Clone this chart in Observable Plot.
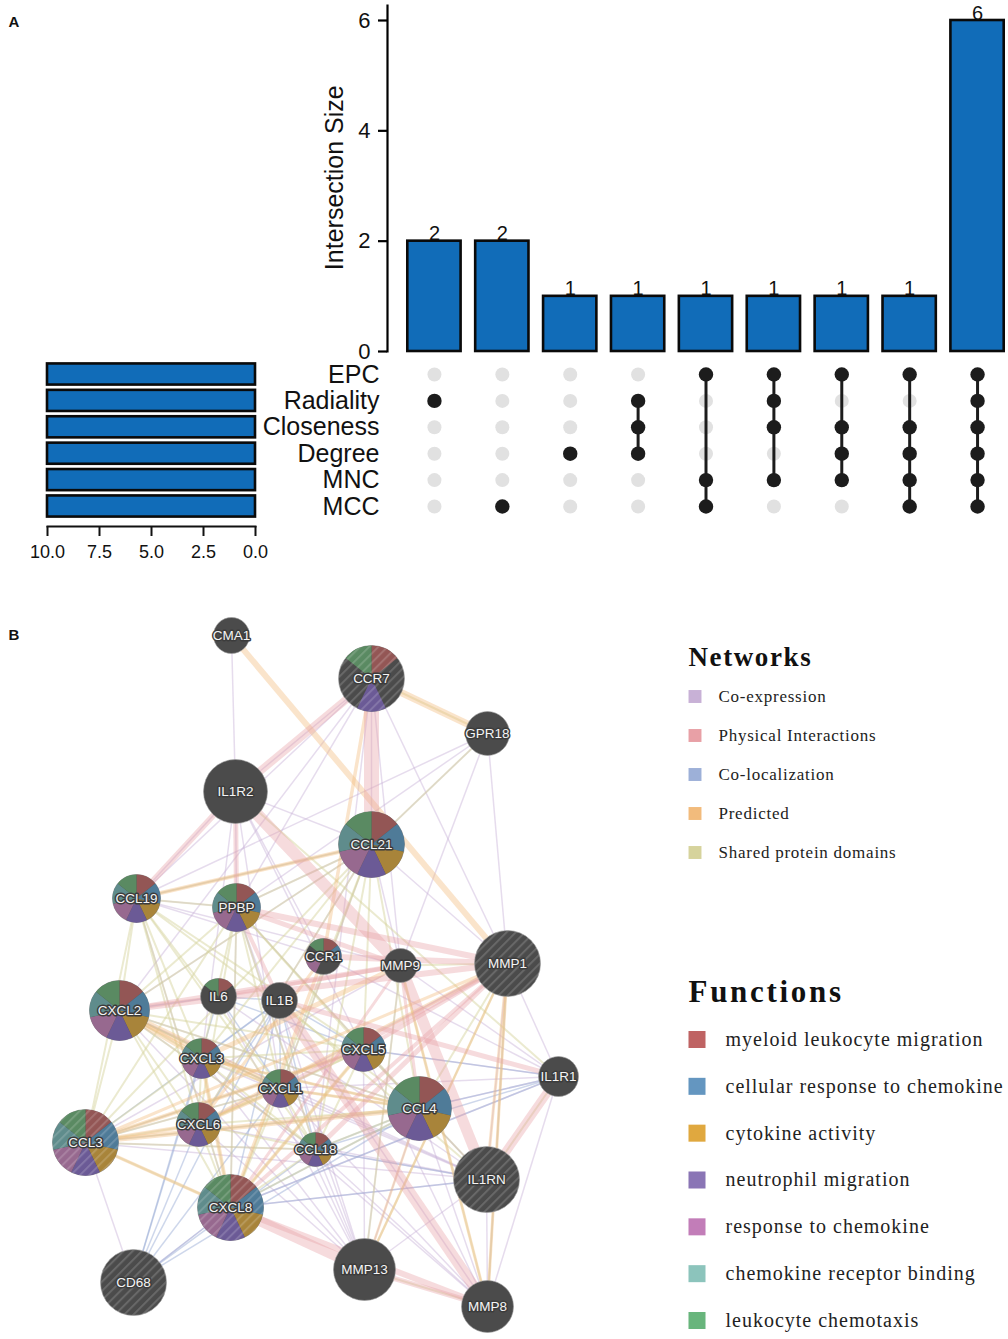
<!DOCTYPE html>
<html><head><meta charset="utf-8">
<script src="https://cdn.jsdelivr.net/npm/d3@7"></script>
<script src="https://cdn.jsdelivr.net/npm/@observablehq/plot@0.6"></script>
<style>html,body{margin:0;padding:0;background:#fff;overflow:hidden}
#page{position:relative;width:1008px;height:1339px;overflow:hidden}
#page svg{position:absolute;background:transparent}
</style></head><body><div id="page"></div>
<script>
// ---------- Panel A data ----------
const setNames = ["EPC","Radiality","Closeness","Degree","MNC","MCC"];
const setSizes = [10,10,10,10,10,10];
const intersectionSizes = [2,2,1,1,1,1,1,1,6];
const intersectionMembers = [
  ["Radiality"],["MCC"],["Degree"],
  ["Radiality","Closeness","Degree"],
  ["EPC","MNC","MCC"],
  ["EPC","Radiality","Closeness","MNC"],
  ["EPC","Closeness","Degree","MNC"],
  ["EPC","Closeness","Degree","MNC","MCC"],
  ["EPC","Radiality","Closeness","Degree","MNC","MCC"]
];
const sizeTicks = [0,2,4,6];
const setTicks = [10,7.5,5,2.5,0];

// ---------- Panel B data ----------
const nodes = [
 ["CMA1",231,635,18],["CCR7",371,678,33],["GPR18",487,733,22],["IL1R2",235,791,32],
 ["CCL21",371,844,33],["CCL19",136,898,24],["PPBP",236,907,24],["CCR1",323,956,18],
 ["MMP9",400,965,17],["MMP1",507,963,33],["IL6",218,996,18],["IL1B",279,1000,18],
 ["CXCL2",119,1010,30],["CXCL5",363,1049,22],["CXCL3",201,1058,20],["CXCL1",280,1088,19],
 ["IL1R1",558,1076,20],["CCL4",419,1108,32],["CXCL6",198,1124,22],["CCL3",85,1142,33],
 ["CCL18",315,1149,17],["IL1RN",486,1179,33],["CXCL8",230,1207,33],["CD68",133,1282,33],
 ["MMP13",364,1269,31],["MMP8",487,1306,26]
].map(([name,x,y,r])=>({name,x,y,r}));
const hatchedNodes = ["CCR7","MMP1","CCL3","CXCL8","CD68","IL1RN"];
const allSevenNodes = ["CCL21","CCL19","PPBP","CXCL2","CXCL5","CXCL3","CXCL1","CCL4","CXCL6","CCL3","CCL18","CXCL8"];
const functionNames = ["myeloid leukocyte migration","cellular response to chemokine","cytokine activity","neutrophil migration","response to chemokine","chemokine receptor binding","leukocyte chemotaxis"];
const functionColors = ["#bf6363","#6496c0","#e0a83f","#8a75b5","#c27db8","#8cc4bc","#68b57c"];
const sectorColors = ["#935655","#4f7b98","#a8843a","#6b5a96","#97698f","#5f8c8c","#5a8a62"];
const extraMembers = {
  "myeloid leukocyte migration":["CCR7","CCR1","IL6"],
  "cellular response to chemokine":["CCR1"],
  "cytokine activity":[],
  "neutrophil migration":["CCR7"],
  "response to chemokine":["CCR1"],
  "chemokine receptor binding":[],
  "leukocyte chemotaxis":["CCR7","CCR1","IL6"]
};
const networkNames = ["Co-expression","Physical Interactions","Co-localization","Predicted","Shared protein domains"];
const networkColors = ["#c8b1d6","#e8a0a6","#9db0d8","#f2bb7c","#d6d39c"];

const coexpressionEdges = [
 ["CMA1","IL1R2"],["IL1R2","CCR7"],["IL1R2","CCL21"],["IL1R2","CCR1"],["IL1R2","CXCL1"],["IL1R2","CXCL5"],["IL1R2","CCL19"],["IL1R2","PPBP"],["IL1R2","CXCL3"],
 ["CCR7","CCL19"],["CCR7","PPBP"],["CCR7","CCL21"],["CCR7","MMP1"],["CCR7","CXCL2"],["CCR7","MMP9"],["CCR7","CCL18"],
 ["GPR18","MMP1"],["GPR18","CCL21"],["GPR18","PPBP"],["GPR18","MMP9"],["GPR18","CCL19"],
 ["CCL21","MMP1"],["CCL21","MMP9"],["CCL21","CCL19"],["CCL21","CXCL2"],["CCL21","PPBP"],["CCL21","CXCL6"],["CCL21","CXCL1"],
 ["CCL19","PPBP"],["CCL19","MMP9"],["CCL19","CCR1"],["CCL19","CXCL8"],["PPBP","CCL4"],["PPBP","CXCL8"],["PPBP","CCL18"],["PPBP","MMP13"],
 ["CCL3","CD68"],["CCL3","CCL4"],["CCL3","IL1RN"],["CCL3","CCL18"],["CCL3","CXCL1"],["CCL3","CXCL5"],["CCL3","MMP9"],
 ["CXCL2","CCL4"],["CXCL2","IL1RN"],["CXCL2","CCL18"],["CXCL2","MMP13"],["CXCL3","IL1RN"],["CXCL3","MMP13"],["CXCL3","MMP8"],["CXCL6","IL1RN"],["CXCL6","MMP1"],["CXCL6","MMP13"],
 ["CXCL1","MMP8"],["CXCL1","IL1RN"],["CXCL1","MMP13"],["CXCL1","IL1R1"],["CXCL5","MMP13"],["CXCL5","MMP8"],["CXCL5","IL1RN"],["CXCL5","IL1R1"],
 ["CCL18","MMP8"],["CCL18","IL1RN"],["CCL18","MMP13"],["CCL4","IL1RN"],["CCL4","MMP8"],["CCL4","IL1R1"],["CCL4","MMP13"],["CXCL8","IL1RN"],["CXCL8","IL1R1"],["CXCL8","CD68"],
 ["MMP1","IL1R1"],["MMP1","IL1RN"],["MMP1","MMP8"],["MMP9","IL1R1"],["MMP9","MMP13"],["IL1RN","MMP13"],["IL1RN","MMP8"],["IL1R1","MMP8"],["IL1R1","CCR1"],["IL1B","MMP13"],["IL1B","MMP8"],["IL6","MMP13"],["IL6","IL1RN"]
];
const colocalizationEdges = [
 ["CD68","CXCL8"],["CD68","CCL4"],["CD68","CXCL6"],["CD68","IL6"],["CD68","CXCL3"],["CD68","CCL18"],["CD68","IL1B"],["CD68","CXCL1"],
 ["IL6","CXCL2"],["IL6","IL1B"],["IL6","CXCL1"],["IL6","CXCL5"],["IL1B","CXCL1"],["IL1B","CXCL6"],["IL1B","CXCL3"],["IL1B","CXCL5"],["IL1B","CCL18"],["IL1B","CXCL8"],
 ["IL1R1","CXCL8"],["IL1R1","CCL18"],["IL1R1","CXCL5"],["IL1R1","CCL4"],["IL1RN","CXCL8"],["IL1RN","CCL18"],["CXCL2","CXCL1"],["CCL3","IL1B"],["CCL18","CCL4"],["CXCL8","CCL4"]
];
const sharedDomainEdges = [
 ["CCL3","CCL4"],["CCL3","CCL18"],["CCL3","CCL19"],["CCL3","CCL21"],["CCL3","PPBP"],["CCL3","CXCL1"],["CCL3","CXCL2"],["CCL3","CXCL3"],["CCL3","CXCL5"],["CCL3","CXCL6"],["CCL3","CXCL8"],
 ["CCL4","CCL18"],["CCL4","CCL19"],["CCL4","CCL21"],["CCL4","PPBP"],["CCL4","CXCL1"],["CCL4","CXCL2"],["CCL4","CXCL3"],["CCL4","CXCL5"],["CCL4","CXCL6"],["CCL4","CXCL8"],
 ["CCL18","CCL19"],["CCL18","CCL21"],["CCL18","PPBP"],["CCL18","CXCL1"],["CCL18","CXCL2"],["CCL18","CXCL3"],["CCL18","CXCL5"],["CCL18","CXCL6"],["CCL18","CXCL8"],
 ["CCL19","CCL21"],["CCL19","PPBP"],["CCL19","CXCL1"],["CCL19","CXCL2"],["CCL19","CXCL3"],["CCL19","CXCL5"],["CCL19","CXCL6"],["CCL19","CXCL8"],
 ["CCL21","PPBP"],["CCL21","CXCL1"],["CCL21","CXCL2"],["CCL21","CXCL3"],["CCL21","CXCL5"],["CCL21","CXCL6"],["CCL21","CXCL8"],
 ["PPBP","CXCL1"],["PPBP","CXCL2"],["PPBP","CXCL3"],["PPBP","CXCL5"],["PPBP","CXCL6"],["PPBP","CXCL8"],
 ["CXCL1","CXCL2"],["CXCL1","CXCL3"],["CXCL1","CXCL5"],["CXCL1","CXCL6"],["CXCL1","CXCL8"],
 ["CXCL2","CXCL3"],["CXCL2","CXCL5"],["CXCL2","CXCL6"],["CXCL2","CXCL8"],
 ["CXCL3","CXCL5"],["CXCL3","CXCL6"],["CXCL3","CXCL8"],["CXCL5","CXCL6"],["CXCL5","CXCL8"],["CXCL6","CXCL8"],
 ["CCR7","GPR18"],["GPR18","CCL21"],["MMP1","MMP13"],["MMP1","MMP8"],["MMP13","MMP8"],["MMP9","MMP8"],["MMP9","MMP13"],["MMP1","MMP9"],
 ["IL1R1","IL1R2"],["IL1RN","IL1B"],["IL1R1","IL1RN"],["MMP1","CCL4"],["IL1RN","CCL4"]
];
const predictedEdges = [
 ["CMA1","MMP1",6],["CCR7","GPR18",7],["CCR7","CCR1",3.5],["CCL19","CCL21",4],["CXCL2","CXCL1",7],["CXCL2","CXCL3",6],
 ["CCL3","CCL4",5],["CCL3","CXCL5",4],["CCL3","CXCL6",4],["CCL3","CXCL8",3.5],["CXCL8","CXCL3",4],["CXCL8","CCR1",3.5],["CXCL8","CXCL5",3.5],
 ["MMP1","MMP8",3],["MMP1","MMP13",2.5],["MMP1","CXCL6",4],["MMP9","MMP8",3],["MMP9","CXCL3",5],["CCL4","MMP13",2.5],["CXCL6","CXCL1",4],["CXCL1","CCL4",3],["CXCL6","CCR1",3],["CXCL3","CCL4",3],["MMP1","IL1RN",3],["CCL3","MMP1",3]
];
const physicalEdges = [
 ["IL1R2","CCR7",8],["IL1R2","CCL19",6],["IL1R2","PPBP",5],["IL1R2","MMP9",12],["CCR7","CCL21",15],
 ["MMP1","CXCL2",6],["MMP1","PPBP",6],["MMP1","CCR1",6],["MMP9","CXCL2",5],["MMP9","PPBP",5],["MMP1","CCL18",5],["MMP1","CXCL1",5],["MMP1","CXCL5",4],["MMP1","CXCL8",4],
 ["MMP9","IL1RN",11],["IL1B","MMP8",11],["IL1R1","IL1RN",9],["IL1B","IL1R1",5],["MMP13","CXCL8",10],["MMP8","CXCL8",6],["MMP13","MMP8",5],
 ["MMP9","CXCL8",3],["PPBP","IL1B",4],["CCL4","MMP9",3],["MMP9","IL6",4]
];

// ---------- Helpers ----------
const arial = "'Liberation Sans', Arial, sans-serif";
const serif = "'Liberation Serif', 'DejaVu Serif', serif";
const page = document.getElementById("page");
function place(svg, left, top){ svg.style.left = left+"px"; svg.style.top = top+"px"; svg.style.maxWidth = "none"; page.appendChild(svg); return svg; }
const xBand = {type:"band", domain:d3.range(9), range:[400,1011], paddingInner:0.215, paddingOuter:0.1075, align:0.5, round:false};
const barBlue = "#116cb8";

// Intersection size bars
place(Plot.plot({
  width:1008, height:360, marginLeft:387, marginRight:0, marginTop:5, marginBottom:9,
  style:{fontFamily:arial, background:"transparent", overflow:"visible"},
  x:{...xBand, axis:null},
  y:{domain:[0,6], range:[351,20]},
  marks:[
    Plot.frame({anchor:"left", stroke:"#000", strokeWidth:2.2}),
    Plot.axisY(sizeTicks,{anchor:"left", tickSize:9, tickPadding:8, tickFormat:"d", strokeWidth:2.2, stroke:"#000", fontSize:22, fill:"#111", label:null}),
    Plot.barY(intersectionSizes,{x:(d,i)=>i, y:d=>d, fill:barBlue, stroke:"#0a0a0a", strokeWidth:2.6}),
    Plot.text(intersectionSizes,{x:(d,i)=>i, y:d=>d, text:d=>String(d), lineAnchor:"bottom", dy:-1, fontSize:20, fill:"#111"}),
    Plot.text(["Intersection Size"],{y:()=>3.15, frameAnchor:"left", textAnchor:"middle", dx:-53, rotate:-90, fontSize:25, fill:"#111"})
  ]
}),0,0);

// Set size bars
place(Plot.plot({
  width:300, height:580, marginLeft:47, marginRight:45, marginTop:350, marginBottom:54,
  style:{fontFamily:arial, background:"transparent"},
  x:{domain:[10,0], range:[47,255], axis:null},
  y:{type:"band", domain:setNames, range:[360.8,519.2], paddingInner:0.2, paddingOuter:0.1, round:false, axis:null},
  marks:[
    Plot.frame({anchor:"bottom", stroke:"#111", strokeWidth:2}),
    Plot.barX(setNames,{y:d=>d, x1:()=>0, x2:(d,i)=>setSizes[i], fill:barBlue, stroke:"#0a0a0a", strokeWidth:2.6}),
    Plot.axisX(setTicks,{anchor:"bottom", tickSize:10, tickPadding:9, tickFormat:d3.format(".1f"), strokeWidth:2, stroke:"#111", fontSize:18, fill:"#111", label:null})
  ]
}),0,0);

// Membership matrix
const matrixCells = intersectionMembers.flatMap((m,i)=>setNames.map(s=>({col:i,set:s,on:m.includes(s)})));
const connectors = intersectionMembers.filter(m=>m.length>1).map(m=>({col:intersectionMembers.indexOf(m),
   top:setNames.find(s=>m.includes(s)), bottom:[...setNames].reverse().find(s=>m.includes(s))}));
place(Plot.plot({
  width:1008, height:540, marginLeft:379, marginRight:0, marginTop:360, marginBottom:20,
  style:{fontFamily:arial, background:"transparent", overflow:"visible"},
  x:{...xBand, axis:null},
  y:{type:"point", domain:setNames, range:[374,506], padding:0, round:false, axis:null},
  marks:[
    Plot.dot(matrixCells.filter(d=>!d.on),{x:"col", y:"set", r:7, fill:"#e1e1e1", stroke:null}),
    Plot.link(connectors,{x1:"col", x2:"col", y1:"top", y2:"bottom", stroke:"#1c1c1c", strokeWidth:3}),
    Plot.dot(matrixCells.filter(d=>d.on),{x:"col", y:"set", r:7.2, fill:"#1c1c1c", stroke:null}),
    Plot.text(setNames,{y:d=>d, text:d=>d, frameAnchor:"left", textAnchor:"end", fontSize:25, fill:"#111"})
  ]
}),0,0);

// Panel letters
place(Plot.plot({
  width:40, height:660, margin:0, axis:null,
  style:{fontFamily:arial, background:"transparent"},
  y:{type:"point", domain:["A","B"], range:[22,635], padding:0, round:false},
  marks:[Plot.text(["A","B"],{y:d=>d, text:d=>d, frameAnchor:"left", dx:8, textAnchor:"start", fontSize:15, fontWeight:"bold", fill:"#111"})]
}),0,0);

// Network
const byName = new Map(nodes.map(n=>[n.name,n]));
const edgeRows = (list,w)=>list.map(([a,b,k])=>({x1:byName.get(a).x,y1:byName.get(a).y,x2:byName.get(b).x,y2:byName.get(b).y,w:k??w}));
const edgeMark = (list,w,color,op)=>Plot.link(edgeRows(list,w),{x1:"x1",y1:"y1",x2:"x2",y2:"y2",stroke:color,strokeWidth:"w",strokeOpacity:op});
const wedge = i => ({draw(ctx,size){
  const r=Math.sqrt(size/Math.PI), a0=-Math.PI/2+i*2*Math.PI/7, a1=a0+2*Math.PI/7;
  ctx.moveTo(0,0); ctx.arc(0,0,r,a0,a1); ctx.closePath();
}});
const hatchDefs = () => {
  const ns="http://www.w3.org/2000/svg";
  const defs=document.createElementNS(ns,"defs"), p=document.createElementNS(ns,"pattern"), rc=document.createElementNS(ns,"rect");
  p.setAttribute("id","hatch"); p.setAttribute("width","6.5"); p.setAttribute("height","6.5");
  p.setAttribute("patternUnits","userSpaceOnUse"); p.setAttribute("patternTransform","rotate(45)");
  rc.setAttribute("width","2"); rc.setAttribute("height","6.5"); rc.setAttribute("fill","#fff"); rc.setAttribute("fill-opacity","0.16");
  p.appendChild(rc); defs.appendChild(p); return defs;
};
place(Plot.plot({
  width:660, height:739, margin:0,
  style:{fontFamily:arial, background:"transparent"},
  x:{domain:[0,660], range:[0,660], axis:null},
  y:{domain:[600,1339], range:[0,739], axis:null},
  r:{type:"identity"},
  marks:[
    hatchDefs,
    edgeMark(coexpressionEdges,1.5,networkColors[0],0.45),
    edgeMark(colocalizationEdges,1.5,networkColors[2],0.5),
    edgeMark(sharedDomainEdges,2,networkColors[4],0.48),
    edgeMark(predictedEdges,3,networkColors[3],0.4),
    edgeMark(physicalEdges,4,networkColors[1],0.38),
    Plot.dot(nodes,{x:"x",y:"y",r:"r",fill:"#4b4b4b",stroke:"#9a9a9a",strokeWidth:0.6,sort:null}),
    ...functionNames.map((f,i)=>Plot.dot(nodes.filter(n=>allSevenNodes.includes(n.name)||extraMembers[f].includes(n.name)),
        {x:"x",y:"y",r:"r",symbol:wedge(i),fill:sectorColors[i],stroke:null})),
    Plot.dot(nodes.filter(n=>hatchedNodes.includes(n.name)),{x:"x",y:"y",r:"r",fill:"url(#hatch)",stroke:null}),
    Plot.text(nodes,{x:"x",y:"y",text:"name",fontSize:13.5,fill:"#f4f4f4",stroke:"#3c3c3c",strokeWidth:3,paintOrder:"stroke",strokeLinejoin:"round"})
  ]
}),0,600);

// Legend titles
function legendTitle(label, top, size, spacing){
  place(Plot.plot({
    width:328, height:50, margin:0, axis:null,
    style:{fontFamily:serif, background:"transparent", letterSpacing:spacing+"px"},
    marks:[Plot.text([label],{frameAnchor:"left", dx:8, textAnchor:"start", fontSize:size, fontWeight:"bold", fill:"#111"})]
  }),680,top);
}
legendTitle("Networks",632,27,1.6);
legendTitle("Functions",967,31,2.7);

// Networks legend
place(Plot.plot({
  width:328, height:240, marginLeft:14.5, marginRight:0, marginTop:0, marginBottom:0,
  style:{fontFamily:serif, background:"transparent", letterSpacing:"0.75px"},
  y:{type:"point", domain:networkNames, range:[66,222], padding:0, round:false, axis:null},
  x:{axis:null},
  marks:[
    Plot.dot(networkNames,{y:d=>d, frameAnchor:"left", symbol:"square", r:7.3, fill:(d,i)=>networkColors[i], stroke:null}),
    Plot.text(networkNames,{y:d=>d, text:d=>d, frameAnchor:"left", dx:23.5, textAnchor:"start", fontSize:17, fill:"#222"})
  ]
}),680,630);

// Functions legend
place(Plot.plot({
  width:328, height:379, marginLeft:16.5, marginRight:0, marginTop:0, marginBottom:0,
  style:{fontFamily:serif, background:"transparent", letterSpacing:"1px"},
  y:{type:"point", domain:functionNames, range:[79,360], padding:0, round:false, axis:null},
  x:{axis:null},
  marks:[
    Plot.dot(functionNames,{y:d=>d, frameAnchor:"left", symbol:"square", r:9.6, fill:(d,i)=>functionColors[i], stroke:null}),
    Plot.text(functionNames,{y:d=>d, text:d=>d, frameAnchor:"left", dx:28.5, textAnchor:"start", fontSize:20, fill:"#222"})
  ]
}),680,960);
</script></body></html>
